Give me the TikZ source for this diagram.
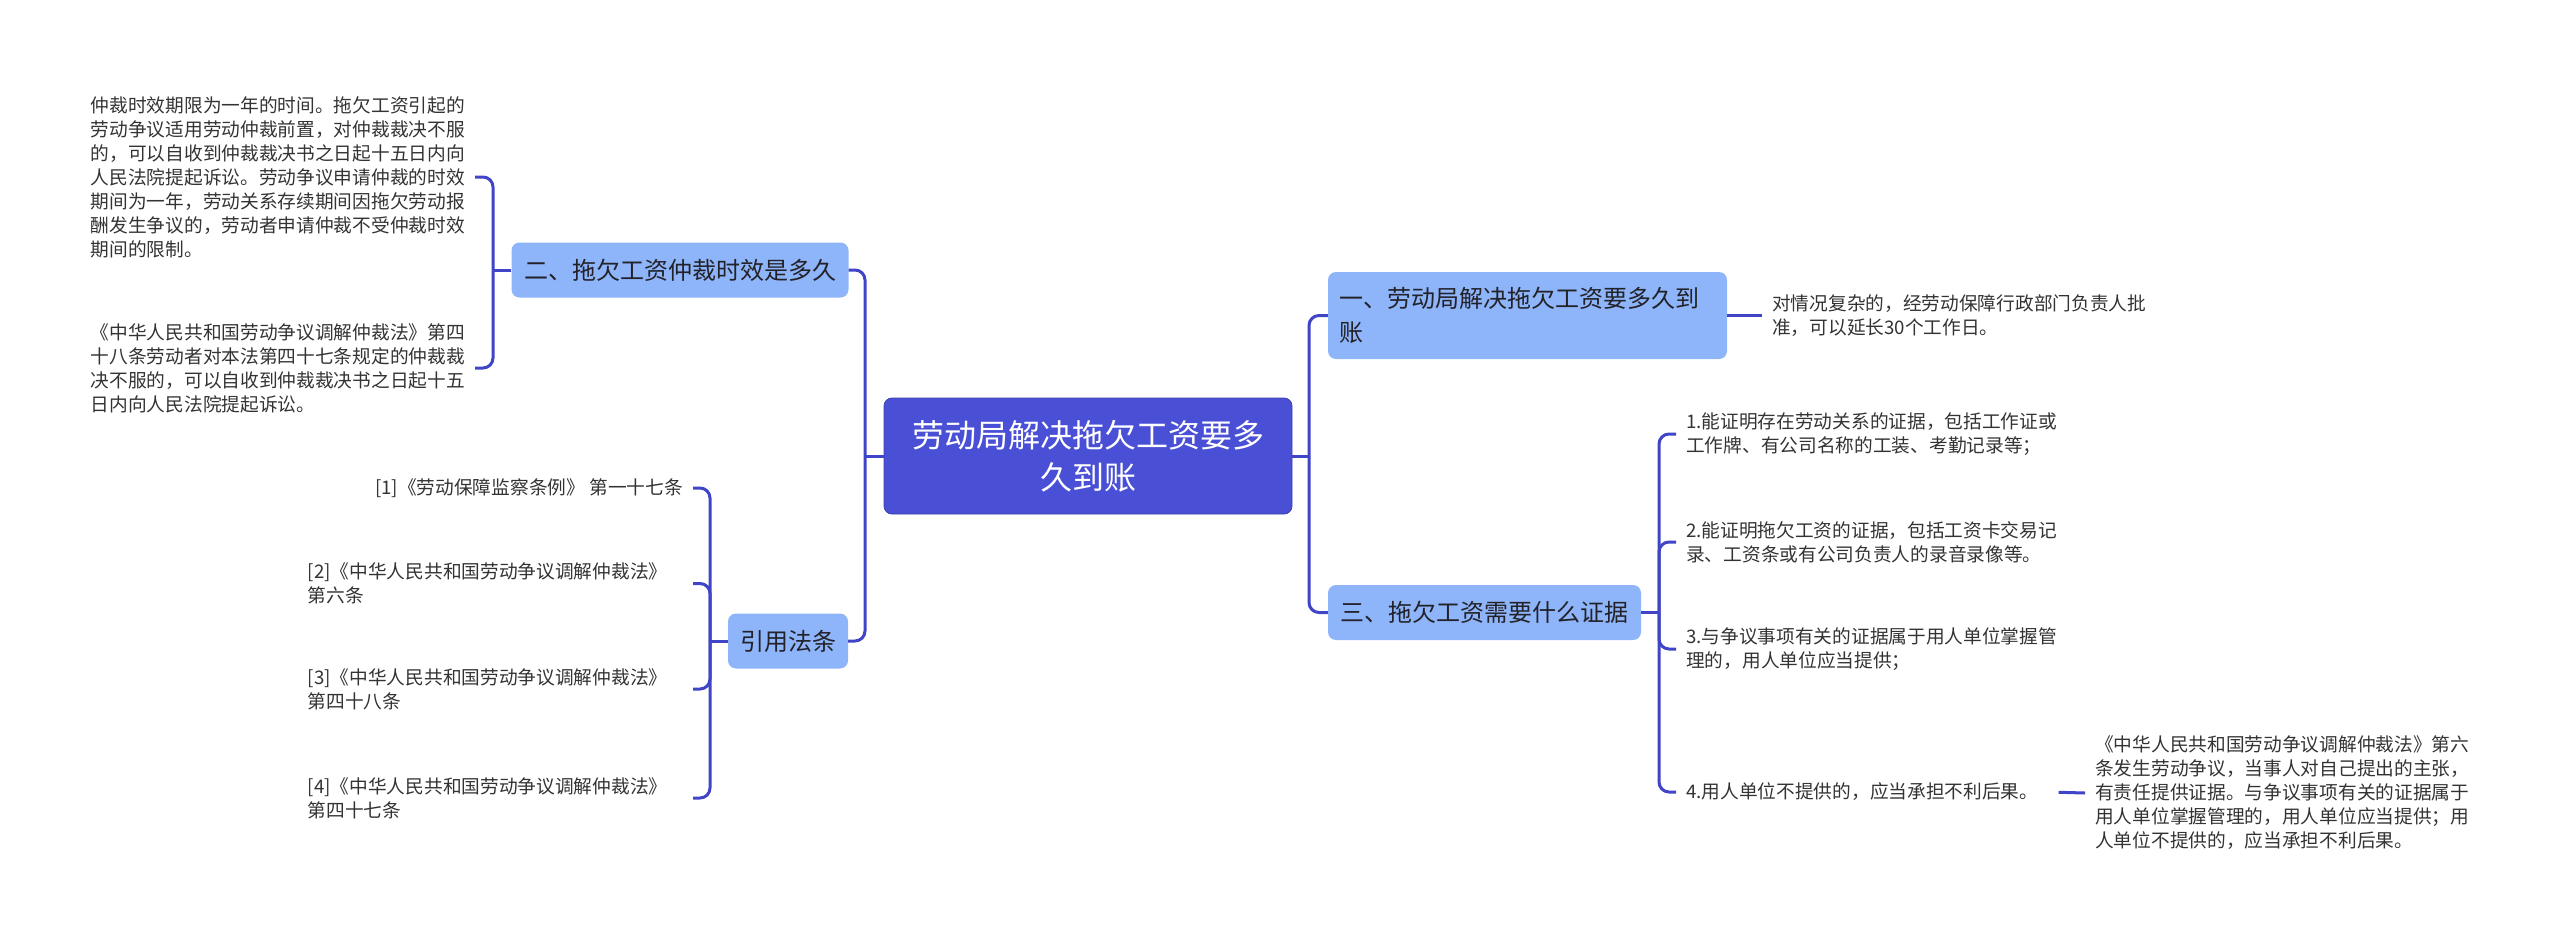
\documentclass[tikz,border=0pt]{standalone}
\usepackage{fontspec}
\setmainfont{Noto Sans CJK SC}
\definecolor{linkc}{RGB}{64,68,198}
\definecolor{rootc}{RGB}{74,80,214}
\definecolor{topicc}{RGB}{142,180,250}
\definecolor{leafc}{RGB}{51,51,51}
\definecolor{topictext}{RGB}{34,34,40}

\begin{document}
\begin{tikzpicture}[x=1pt,y=-1pt,
  link/.style={draw=linkc, line width=3pt, rounded corners=10pt},
  rootbox/.style={fill=rootc, draw=rootc!80!black, line width=0.8pt, rounded corners=8pt, text=white,
    font=\fontsize{32}{42}\selectfont, align=center, minimum width=408pt, minimum height=116pt, inner sep=0pt},
  topic/.style={fill=topicc, rounded corners=8pt, text=topictext,
    font=\fontsize{24}{34}\selectfont, minimum height=55pt, inner xsep=11pt, inner ysep=0pt},
  leaf/.style={text=leafc, font=\fontsize{18.7}{24}\selectfont, align=left, inner xsep=10pt, inner ysep=2pt},
]
\useasboundingbox (0,0) rectangle (2560,943);

\node[rootbox] (root) at (1088,456) {劳动局解决拖欠工资要多\\久到账};

\node[topic, minimum width=337pt] (two) at (680,270) {二、拖欠工资仲裁时效是多久};
\node[topic, minimum width=120pt] (law) at (788,641) {引用法条};
\node[topic, text width=377pt, align=left, minimum height=87pt] (one) at (1527.5,315.5) {一、劳动局解决拖欠工资要多久到\\账};
\node[topic, minimum width=313pt] (three) at (1484.5,612.5) {三、拖欠工资需要什么证据};

\coordinate (jl) at (865,456);
\coordinate (jr) at (1309,456);
\coordinate (jtwo) at (493,270);
\coordinate (jlaw) at (710,641);
\coordinate (jthree) at (1659,612.5);

\node[leaf, anchor=east] (limit) at (475,177) {仲裁时效期限为一年的时间。拖欠工资引起的\\劳动争议适用劳动仲裁前置，对仲裁裁决不服\\的，可以自收到仲裁裁决书之日起十五日内向\\人民法院提起诉讼。劳动争议申请仲裁的时效\\期间为一年，劳动关系存续期间因拖欠劳动报\\酬发生争议的，劳动者申请仲裁不受仲裁时效\\期间的限制。};
\node[leaf, anchor=east] (art48) at (475,368) {《中华人民共和国劳动争议调解仲裁法》第四\\十八条劳动者对本法第四十七条规定的仲裁裁\\决不服的，可以自收到仲裁裁决书之日起十五\\日内向人民法院提起诉讼。};

\node[leaf, anchor=east] (ref1) at (693,488) {[1]《劳动保障监察条例》 第一十七条};
\node[leaf, anchor=east, text width=375pt] (ref2) at (693,583.5) {[2]《中华人民共和国劳动争议调解仲裁法》\\第六条};
\node[leaf, anchor=east, text width=375pt] (ref3) at (693,689) {[3]《中华人民共和国劳动争议调解仲裁法》\\第四十八条};
\node[leaf, anchor=east, text width=375pt] (ref4) at (693,798) {[4]《中华人民共和国劳动争议调解仲裁法》\\第四十七条};

\node[leaf, anchor=west] (extend) at (1762,315.5) {对情况复杂的，经劳动保障行政部门负责人批\\准，可以延长30个工作日。};

\node[leaf, anchor=west] (ev1) at (1676,434) {1.能证明存在劳动关系的证据，包括工作证或\\工作牌、有公司名称的工装、考勤记录等；};
\node[leaf, anchor=west] (ev2) at (1676,542) {2.能证明拖欠工资的证据，包括工资卡交易记\\录、工资条或有公司负责人的录音录像等。};
\node[leaf, anchor=west] (ev3) at (1676,649) {3.与争议事项有关的证据属于用人单位掌握管\\理的，用人单位应当提供；};
\node[leaf, anchor=west] (ev4) at (1676,792) {4.用人单位不提供的，应当承担不利后果。};
\node[leaf, anchor=west] (art6) at (2085,793) {《中华人民共和国劳动争议调解仲裁法》第六\\条发生劳动争议，当事人对自己提出的主张，\\有责任提供证据。与争议事项有关的证据属于\\用人单位掌握管理的，用人单位应当提供；用\\人单位不提供的，应当承担不利后果。};

\draw[link] (root.west) -- (jl);
\draw[link] (two.east) -| (jl);
\draw[link] (law.east) -| (jl);
\draw[link] (root.east) -- (jr);
\draw[link] (one.west) -| (jr);
\draw[link] (three.west) -| (jr);

\draw[link] (two.west) -- (jtwo);
\draw[link] (limit.east) -| (jtwo);
\draw[link] (art48.east) -| (jtwo);

\draw[link] (law.west) -- (jlaw);
\draw[link] (ref1.east) -| (jlaw);
\draw[link] (ref2.east) -| (jlaw);
\draw[link] (ref3.east) -| (jlaw);
\draw[link] (ref4.east) -| (jlaw);

\draw[link] (one.east) -- (extend.west);

\draw[link] (three.east) -- (jthree);
\draw[link] (ev1.west) -| (jthree);
\draw[link] (ev2.west) -| (jthree);
\draw[link] (ev3.west) -| (jthree);
\draw[link] (ev4.west) -| (jthree);
\draw[link, shorten <=10pt] (ev4.east) -- (art6.west);
\end{tikzpicture}
\end{document}
